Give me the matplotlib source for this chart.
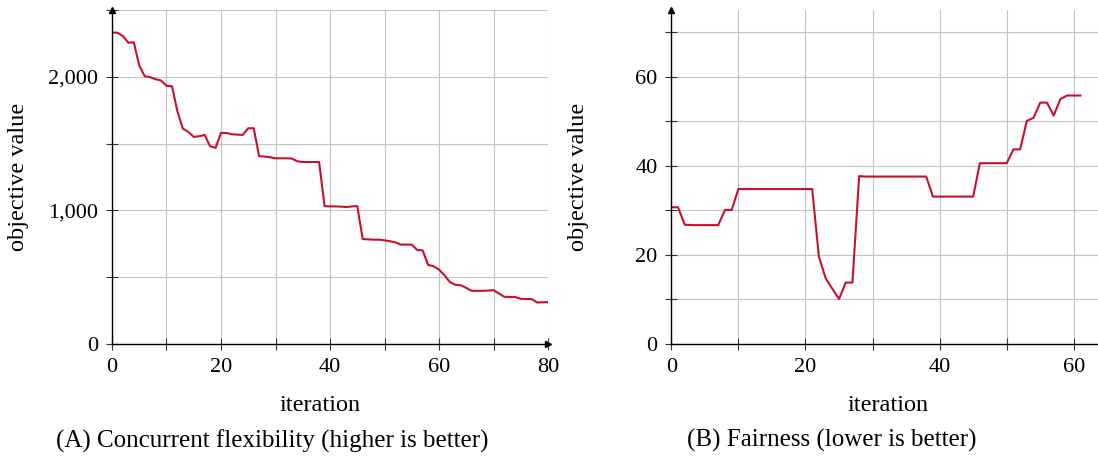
import numpy as np
import matplotlib
matplotlib.use("Agg")
from matplotlib import pyplot as plt
from matplotlib.ticker import MultipleLocator, FuncFormatter

# datos
iter_a = list(range(0, 81))
flex = [2332, 2330, 2305, 2255, 2258, 2085, 2005, 1997, 1982, 1972,
        1932, 1930, 1742, 1612, 1588, 1550, 1555, 1565, 1480, 1468,
        1580, 1580, 1570, 1567, 1565, 1615, 1615, 1405, 1403, 1398,
        1390, 1390, 1390, 1388, 1368, 1362, 1362, 1362, 1362, 1032,
        1030, 1030, 1028, 1025, 1030, 1032, 786, 783, 781, 781,
        776, 769, 761, 744, 744, 744, 704, 701, 592, 582,
        557, 515, 463, 443, 440, 420, 398, 398, 398, 400,
        403, 378, 353, 352, 351, 338, 337, 336, 311, 312,
        313]

iter_b = list(range(0, 62))
fair = [30.7, 30.7, 26.8, 26.7, 26.7, 26.7, 26.7, 26.7, 30.1, 30.1,
        34.8, 34.8, 34.8, 34.8, 34.8, 34.8, 34.8, 34.8, 34.8, 34.8,
        34.8, 34.8, 19.6, 14.8, 12.4, 10.1, 13.8, 13.8, 37.7, 37.6,
        37.6, 37.6, 37.6, 37.6, 37.6, 37.6, 37.6, 37.6, 37.6, 33.1,
        33.1, 33.1, 33.1, 33.1, 33.1, 33.1, 40.6, 40.6, 40.6, 40.6,
        40.6, 43.7, 43.7, 50.1, 50.8, 54.2, 54.2, 51.3, 55.0, 55.8,
        55.8, 55.8]

captions = ["(A) Concurrent flexibility (higher is better)",
            "(B) Fairness (lower is better)"]

plt.rcParams['font.family'] = ['Liberation Serif', 'DejaVu Serif']

color_linea = '#c8102e'
color_grid = '#c4c4c4'


def preparar_ejes(ax, xmax, ymax, xmaj, ymaj, ymin_paso, formato):
    ax.set_xlim(0, xmax)
    ax.set_ylim(0, ymax)
    ax.xaxis.set_major_locator(MultipleLocator(xmaj))
    ax.xaxis.set_minor_locator(MultipleLocator(10))
    ax.yaxis.set_major_locator(MultipleLocator(ymaj))
    ax.yaxis.set_minor_locator(MultipleLocator(ymin_paso))
    ax.yaxis.set_major_formatter(FuncFormatter(formato))
    ax.grid(True, which='both', color=color_grid, linewidth=0.8)
    ax.set_axisbelow(True)
    for lado in ['top', 'right']:
        ax.spines[lado].set_visible(False)
    for lado in ['left', 'bottom']:
        ax.spines[lado].set_linewidth(1.0)
    ax.tick_params(which='both', direction='inout', length=8, width=0.8,
                   color='#333333', labelsize=16, pad=6)
    ax.plot(1, 0, '>k', markersize=5, transform=ax.transAxes, clip_on=False)
    ax.plot(0, 1, '^k', markersize=5, transform=ax.transAxes, clip_on=False)
    ax.set_xlabel('iteration', fontsize=17.5)
    ax.set_ylabel('objective value', fontsize=17.5)


fig = plt.figure(figsize=(10.98, 4.63), dpi=100)

ax1 = fig.add_axes([0.1020, 0.2570, 0.3971, 0.7214])
ax1.plot(iter_a, flex, color=color_linea, linewidth=1.5)
preparar_ejes(ax1, 80, 2500, 20, 1000, 500, lambda v, p: '{:,.0f}'.format(v))
ax1.xaxis.set_label_coords(0.477, -0.153)
ax1.yaxis.set_label_coords(-0.19, 0.5)
ax1.text(0.367, -0.29, captions[0], transform=ax1.transAxes,
         ha='center', va='center', fontsize=18)

ax2 = fig.add_axes([0.6114, 0.2570, 0.3971, 0.7214])
ax2.plot(iter_b, fair, color=color_linea, linewidth=1.5)
preparar_ejes(ax2, 65, 75, 20, 20, 10, lambda v, p: '{:.0f}'.format(v))
ax2.xaxis.set_label_coords(0.498, -0.153)
ax2.yaxis.set_label_coords(-0.189, 0.5)
ax2.text(0.369, -0.29, captions[1], transform=ax2.transAxes,
         ha='center', va='center', fontsize=18)

fig.savefig('out.png', dpi=100)
